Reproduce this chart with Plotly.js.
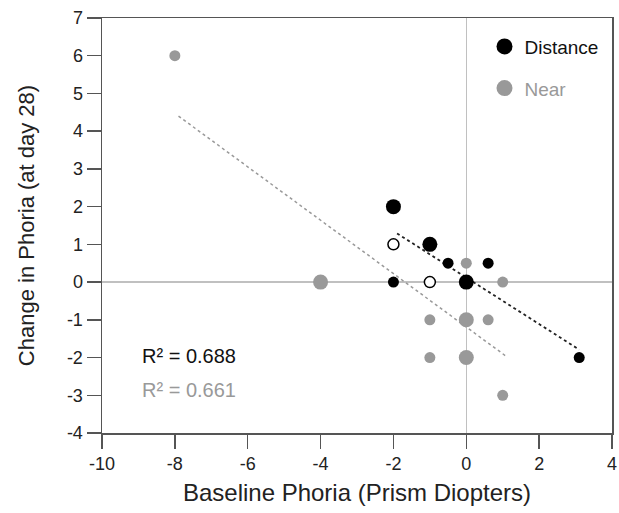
<!DOCTYPE html>
<html>
<head>
<meta charset="utf-8">
<script src="https://cdn.plot.ly/plotly-3.0.1.min.js"></script>
<style>html,body{margin:0;padding:0;background:#fff;}#chart{width:619px;height:513px;}</style>
</head>
<body>
<div id="chart"></div>
<script>
// Distance (black) points
const distLargeX = [-2, -1, 0];
const distLargeY = [2, 1, 0];
const distSmallX = [-0.5, 0.6, -2, 3.1];
const distSmallY = [0.5, 0.5, 0, -2];
const distOpenX = [-2, -1];
const distOpenY = [1, 0];
// Near (gray) points
const nearLargeX = [-4, 0, 0];
const nearLargeY = [0, -1, -2];
const nearSmallX = [-8, 0, 1, -1, 0.6, -1, 1];
const nearSmallY = [6, 0.5, 0, -1, -1, -2, -3];
// Regression line end points
const distFitX = [-1.9, 3.1];
const distFitY = [1.29, -1.79];
const nearFitX = [-7.9, 1.1];
const nearFitY = [4.4, -1.97];
const r2Labels = ['R² = 0.688', 'R² = 0.661'];
const xTicks = [-10, -8, -6, -4, -2, 0, 2, 4];
const yTicks = [-4, -3, -2, -1, 0, 1, 2, 3, 4, 5, 6, 7];

const BLACK = '#000000';
const GRAY = '#999999';
const FONT = 'Liberation Sans, Arial, sans-serif';

const traces = [
  {x: nearFitX, y: nearFitY, mode: 'lines', line: {color: GRAY, width: 1.5, dash: 'dot'}, showlegend: false, hoverinfo: 'skip'},
  {x: distFitX, y: distFitY, mode: 'lines', line: {color: '#222', width: 1.8, dash: 'dot'}, showlegend: false, hoverinfo: 'skip'},
  {x: nearSmallX, y: nearSmallY, mode: 'markers', marker: {color: GRAY, size: 11}, showlegend: false},
  {x: nearLargeX, y: nearLargeY, mode: 'markers', marker: {color: GRAY, size: 15}, showlegend: false},
  {x: distSmallX, y: distSmallY, mode: 'markers', marker: {color: BLACK, size: 11}, showlegend: false},
  {x: distLargeX, y: distLargeY, mode: 'markers', marker: {color: BLACK, size: 15}, showlegend: false},
  {x: distOpenX, y: distOpenY, mode: 'markers', marker: {color: '#fff', size: 11, line: {color: BLACK, width: 1.5}}, showlegend: false},
  {x: [null], y: [null], mode: 'markers', name: 'Distance', legendgroup: 'a', marker: {color: BLACK, size: 20}},
  {x: [null], y: [null], mode: 'markers', name: '<span style="color:#999999">Near</span>', legendgroup: 'b', marker: {color: GRAY, size: 20}}
];

const axisCommon = {
  showline: true, mirror: true, linecolor: '#555', linewidth: 1.5,
  ticks: 'outside', ticklen: 14, tickwidth: 1.5, tickcolor: '#555',
  showgrid: false, zeroline: true, zerolinecolor: '#c0c0c0', zerolinewidth: 1.5,
  tickfont: {family: FONT, size: 18, color: '#222'},
  fixedrange: true
};

const layout = {
  width: 619, height: 513,
  margin: {l: 102, r: 7, t: 18, b: 80},
  paper_bgcolor: '#fff', plot_bgcolor: '#fff',
  font: {family: FONT},
  xaxis: Object.assign({}, axisCommon, {
    range: [-10, 4], tickvals: xTicks, ticktext: xTicks.map(String),
    title: {text: 'Baseline Phoria (Prism Diopters)', font: {family: FONT, size: 24, color: '#222'}, standoff: 11}
  }),
  yaxis: Object.assign({}, axisCommon, {
    range: [-4, 7], tickvals: yTicks, ticktext: yTicks.map(String),
    title: {text: 'Change in Phoria (at day 28)', font: {family: FONT, size: 22, color: '#222'}, standoff: 26}
  }),
  showlegend: true,
  legend: {
    x: 0.75, y: 0.977, xanchor: 'left', yanchor: 'top',
    traceorder: 'grouped', tracegroupgap: 14,
    font: {family: FONT, size: 19, color: '#111'},
    bgcolor: 'rgba(0,0,0,0)', borderwidth: 0
  },
  annotations: [
    {xref: 'paper', yref: 'paper', x: 0.075, y: 0.186, xanchor: 'left', yanchor: 'middle', showarrow: false,
     text: r2Labels[0], font: {family: FONT, size: 20, color: '#111'}},
    {xref: 'paper', yref: 'paper', x: 0.075, y: 0.104, xanchor: 'left', yanchor: 'middle', showarrow: false,
     text: r2Labels[1], font: {family: FONT, size: 20, color: GRAY}}
  ]
};

Plotly.newPlot('chart', traces, layout, {displayModeBar: false, staticPlot: true});
</script>
</body>
</html>
